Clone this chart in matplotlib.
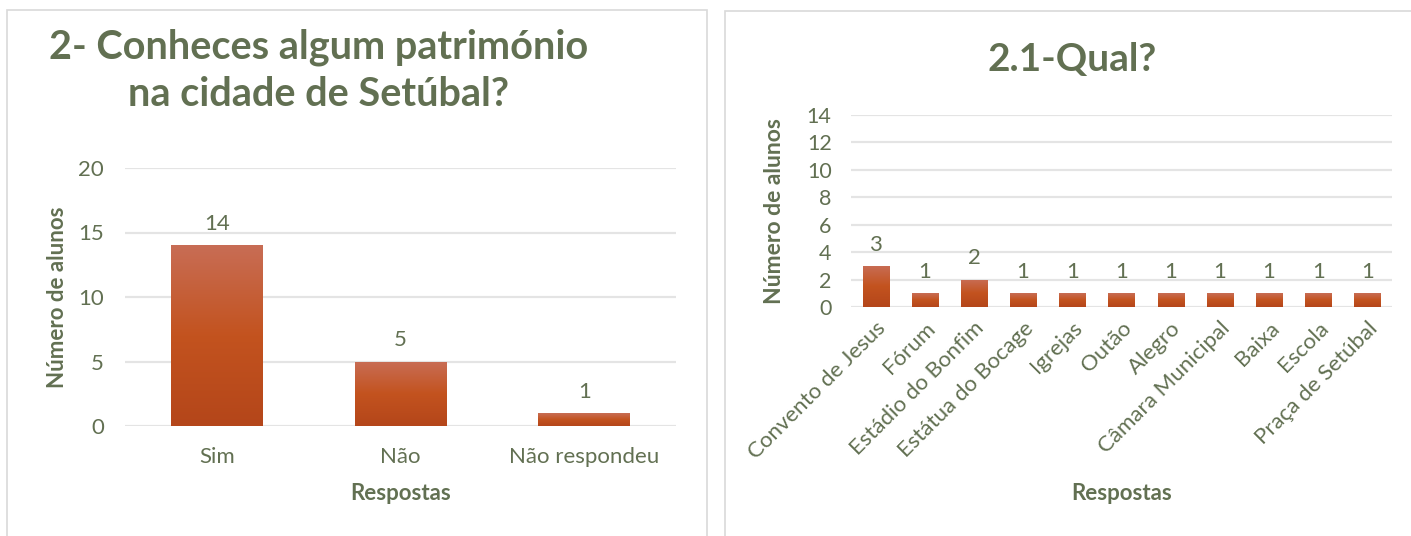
import matplotlib.pyplot as plt
import numpy as np
from matplotlib.colors import LinearSegmentedColormap
from matplotlib.patches import Rectangle

# data
cats1 = ['Sim', 'Não', 'Não respondeu']
vals1 = [14, 5, 1]

cats2 = ['Convento de Jesus', 'Fórum', 'Estádio do Bonfim', 'Estátua do Bocage',
         'Igrejas', 'Outão', 'Alegro', 'Câmara Municipal', 'Baixa', 'Escola',
         'Praça de Setúbal']
vals2 = [3, 1, 2, 1, 1, 1, 1, 1, 1, 1, 1]

title1 = '2- Conheces algum património\nna cidade de Setúbal?'
title2 = '2.1-Qual?'

plt.rcParams['font.family'] = ['Lato', 'DejaVu Sans']
txt = '#627052'
grid = '#E4E4E4'
grad = LinearSegmentedColormap.from_list('bar', ['#B4461A', '#C3531F', '#C86D55'])

W, H = 1411, 536
fig = plt.figure(figsize=(W / 100, H / 100), dpi=100)

# panel frames
fig.patches.append(Rectangle((7 / W, -0.05), 700 / W, 1.05 - 10 / H, transform=fig.transFigure,
                             fill=False, edgecolor='#D9D9D9', lw=1.2))
fig.patches.append(Rectangle((725 / W, -0.05), 700 / W, 1.05 - 11 / H, transform=fig.transFigure,
                             fill=False, edgecolor='#D9D9D9', lw=1.2))


def gradient_bars(ax, bars):
    g = np.linspace(0, 1, 256).reshape(-1, 1)
    for b in bars:
        x, y = b.get_x(), b.get_y()
        w, h = b.get_width(), b.get_height()
        im = ax.imshow(g, cmap=grad, origin='lower', aspect='auto',
                       extent=[x, x + w, y, y + h], zorder=3)
        im.set_clip_path(b)
        b.set_facecolor('none')


def style_axes(ax, ymax, step, fs, pad):
    ax.set_ylim(0, ymax)
    ax.set_yticks(np.arange(0, ymax + 1, step))
    for s in ['top', 'right', 'left', 'bottom']:
        ax.spines[s].set_visible(False)
    ax.yaxis.grid(True, color=grid, lw=1.6, zorder=0)
    ax.set_axisbelow(True)
    ax.tick_params(length=0, colors=txt, labelsize=fs)
    ax.tick_params(axis='y', pad=pad)


# left chart
ax1 = fig.add_axes([125 / W, 1 - 426 / H, 551 / W, 258 / H])
x1 = np.arange(len(cats1))
b1 = ax1.bar(x1, vals1, width=0.5, zorder=3)
ax1.set_xlim(-0.5, len(cats1) - 0.5)
gradient_bars(ax1, b1)
style_axes(ax1, 20, 5, 16, 15)
ax1.set_xticks(x1)
ax1.set_xticklabels(cats1)
ax1.tick_params(axis='x', pad=15)
for xi, v in zip(x1, vals1):
    ax1.annotate(str(v), (xi, v), xytext=(0, 8), textcoords='offset points',
                 ha='center', va='bottom', color=txt, fontsize=16)
ax1.set_ylabel('Número de alunos', color=txt, fontsize=16, fontweight='bold', va='center')
ax1.yaxis.set_label_coords(-0.1216, 0.5)
ax1.set_xlabel('Respostas', color=txt, fontsize=16, fontweight='bold')
ax1.xaxis.set_label_coords(0.5, -0.26)
ax1.xaxis.label.set_va('center')
fig.text(319 / W, 1 - 71 / H, title1, ha='center', va='center', color=txt,
         fontsize=28.5, fontweight='bold', linespacing=1.32)

# right chart
ax2 = fig.add_axes([851 / W, 1 - 307 / H, 541 / W, 192 / H])
x2 = np.arange(len(cats2))
b2 = ax2.bar(x2, vals2, width=0.53, zorder=3)
ax2.set_xlim(-0.5, len(cats2) - 0.5)
gradient_bars(ax2, b2)
style_axes(ax2, 14, 2, 15.5, 14)
ax2.set_xticks(x2)
ax2.set_xticklabels(cats2, rotation=45, ha='right', rotation_mode='anchor', fontsize=16)
ax2.tick_params(axis='x', pad=8)
for xi, v in zip(x2, vals2):
    ax2.annotate(str(v), (xi, v), xytext=(0, 8), textcoords='offset points',
                 ha='center', va='bottom', color=txt, fontsize=16)
ax2.set_ylabel('Número de alunos', color=txt, fontsize=16.5, fontweight='bold', va='center')
ax2.yaxis.set_label_coords(-0.1405, 0.5)
ax2.set_xlabel('Respostas', color=txt, fontsize=16, fontweight='bold')
ax2.xaxis.set_label_coords(0.5, -0.97)
ax2.xaxis.label.set_va('center')
fig.text(1072 / W, 1 - 60 / H, title2, ha='center', va='center', color=txt,
         fontsize=28, fontweight='bold')

fig.savefig('out.png', dpi=100)
